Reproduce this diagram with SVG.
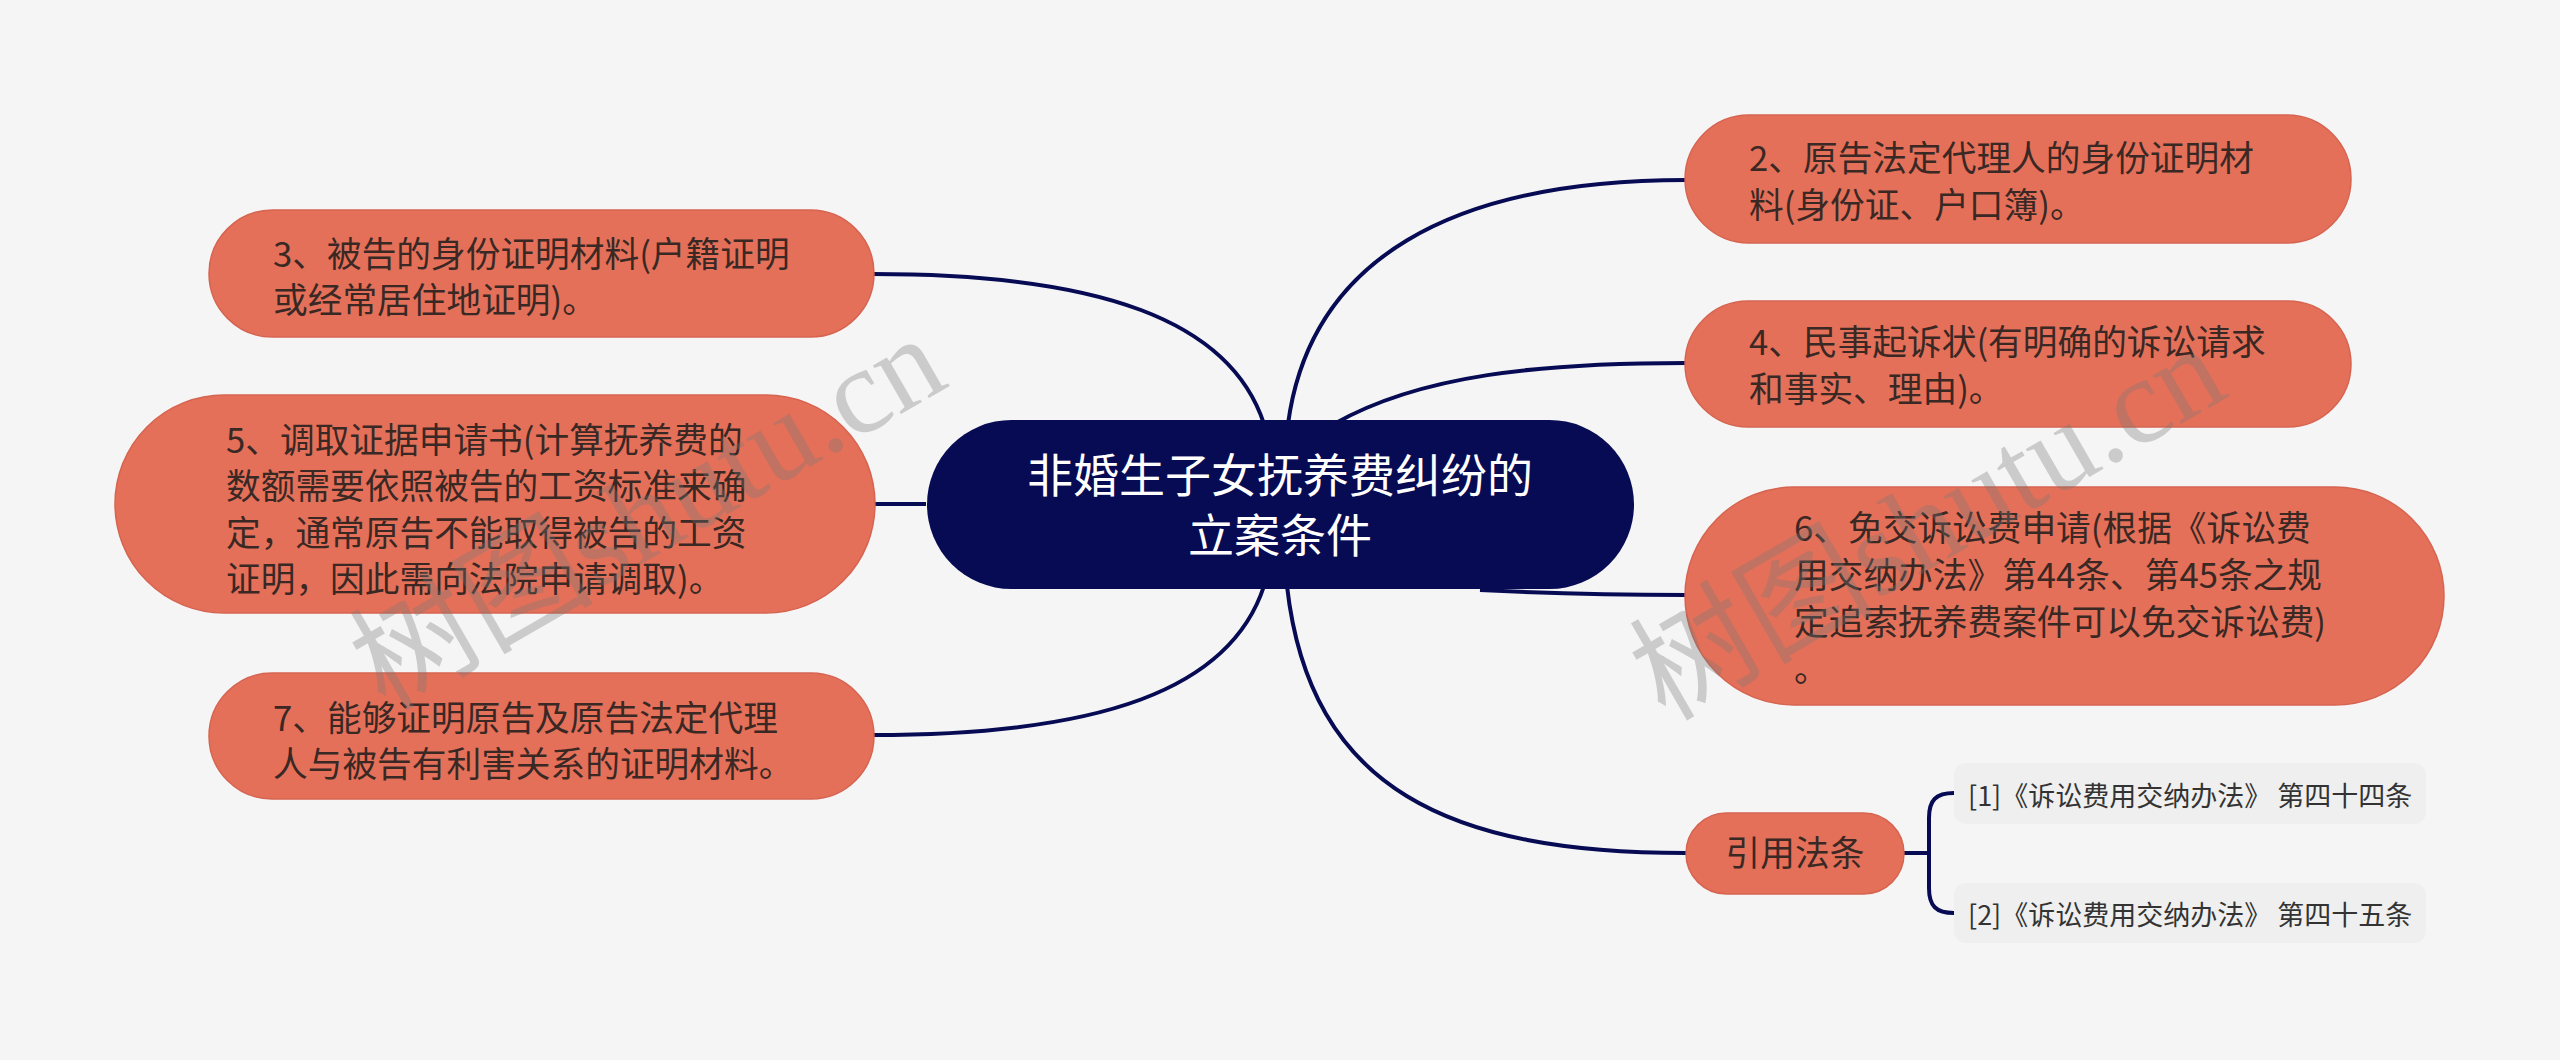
<svg xmlns="http://www.w3.org/2000/svg" width="2560" height="1060" viewBox="0 0 2560 1060">
<style>
.bg{fill:#f5f5f5}
.node rect.b{fill:#e4705a;stroke:#d66450;stroke-width:1.5}
.node text{font-family:"Noto Sans CJK SC","Microsoft YaHei",sans-serif;font-size:34.7px;fill:#3a2824}
.root rect{fill:#070b54}
.root text{font-family:"Noto Sans CJK SC","Microsoft YaHei",sans-serif;font-size:46px;fill:#ffffff;text-anchor:middle}
.leaf rect{fill:#efefef}
.leaf text{font-family:"Noto Sans CJK SC","Microsoft YaHei",sans-serif;font-size:27px;fill:#333333}
.conn path{fill:none;stroke:#070b54;stroke-width:4}
.wm{font-family:"Liberation Serif","Noto Sans CJK SC",serif;font-size:122px;fill:#777777;fill-opacity:0.33}
</style>
<rect class="bg" x="0" y="0" width="2560" height="1060"/>
<g id="connectors" class="conn">
<path d="M1264 424 C1230 320 1100 274 873 274"/>
<path d="M926 504 L873 504"/>
<path d="M1264 586 C1230 690 1100 735 873 735"/>
<path d="M1288 424 C1310 260 1450 180 1686 180"/>
<path d="M1334 424 C1420 375 1540 363 1686 363"/>
<path d="M1480 590 C1560 594 1620 595 1686 595"/>
<path d="M1287 586 C1310 790 1450 853 1686 853"/>
<path d="M1904 853 L1929 853"/>
<path d="M1954 793 C1936 793 1929 800 1929 818 L1929 888 C1929 906 1936 913 1954 913"/>
</g>
<g id="root" class="root">
<rect x="927" y="420" width="707" height="169" rx="84.5"/>
<text x="1280" y="492">非婚生子女抚养费纠纷的</text>
<text x="1280" y="552">立案条件</text>
</g>
<g id="n3" class="node">
<rect class="b" x="209" y="210" width="665" height="127" rx="63.5"/>
<text x="273" y="267">3、被告的身份证明材料(户籍证明</text>
<text x="273" y="313">或经常居住地证明)。</text>
</g>
<g id="n5" class="node">
<rect class="b" x="115" y="395" width="760" height="218" rx="109"/>
<text x="226" y="453">5、调取证据申请书(计算抚养费的</text>
<text x="226" y="499">数额需要依照被告的工资标准来确</text>
<text x="226" y="546">定，通常原告不能取得被告的工资</text>
<text x="226" y="592">证明，因此需向法院申请调取)。</text>
</g>
<g id="n7" class="node">
<rect class="b" x="209" y="673" width="665" height="126" rx="63"/>
<text x="273" y="731">7、能够证明原告及原告法定代理</text>
<text x="273" y="777">人与被告有利害关系的证明材料。</text>
</g>
<g id="n2" class="node">
<rect class="b" x="1685" y="115" width="666" height="128" rx="64"/>
<text x="1749" y="171">2、原告法定代理人的身份证明材</text>
<text x="1749" y="218">料(身份证、户口簿)。</text>
</g>
<g id="n4" class="node">
<rect class="b" x="1685" y="301" width="666" height="126" rx="63"/>
<text x="1749" y="355">4、民事起诉状(有明确的诉讼请求</text>
<text x="1749" y="402">和事实、理由)。</text>
</g>
<g id="n6" class="node">
<rect class="b" x="1685" y="487" width="759" height="218" rx="109"/>
<text x="1794" y="541">6、免交诉讼费申请(根据《诉讼费</text>
<text x="1794" y="588">用交纳办法》第44条、第45条之规</text>
<text x="1794" y="635">定追索抚养费案件可以免交诉讼费)</text>
<text x="1794" y="682">。</text>
</g>
<g id="ref" class="node">
<rect class="b" x="1686" y="813" width="218" height="81" rx="40.5"/>
<text x="1795" y="866" text-anchor="middle">引用法条</text>
</g>
<g id="ref1" class="leaf">
<rect x="1954" y="763" width="472" height="61" rx="12"/>
<text x="1968" y="806">[1]《诉讼费用交纳办法》 第四十四条</text>
</g>
<g id="ref2" class="leaf">
<rect x="1954" y="883" width="472" height="60" rx="12"/>
<text x="1968" y="925">[2]《诉讼费用交纳办法》 第四十五条</text>
</g>
<text class="wm" transform="translate(385 712) rotate(-30)">树图shutu.cn</text>
<text class="wm" transform="translate(1665 722) rotate(-30)">树图shutu.cn</text>
</svg>
